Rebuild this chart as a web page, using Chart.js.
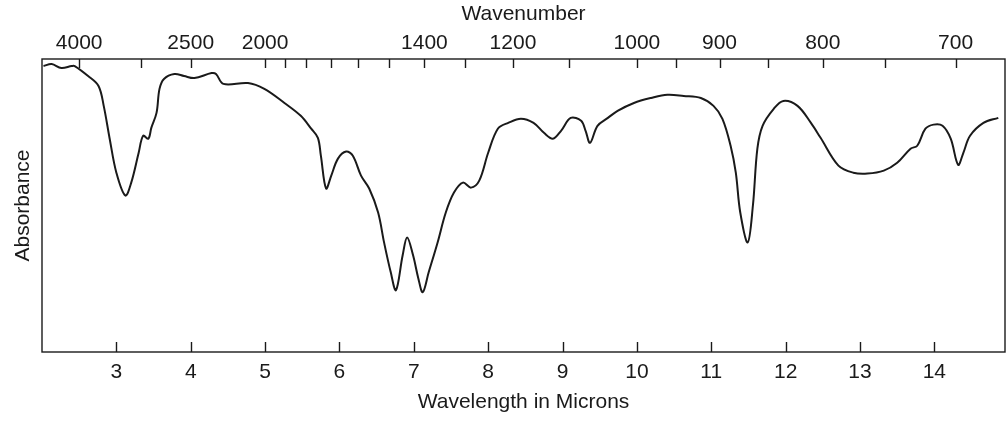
<!DOCTYPE html>
<html>
<head>
<meta charset="utf-8">
<script src="https://cdn.jsdelivr.net/npm/chart.js@4/dist/chart.umd.min.js"></script>
<style>
  body { margin: 0; background: #fff; }
  canvas { display: block; }
</style>
</head>
<body>
<canvas id="chartSpectrum" width="1007" height="423"></canvas>
<script>
// wavelength (microns)
var wavelength = [
  2.02, 2.13, 2.26, 2.40, 2.44, 2.62, 2.76, 2.83, 2.91, 3.00, 3.12, 3.20, 3.30, 3.36, 3.43,
  3.47, 3.54, 3.58, 3.64, 3.78, 3.91, 4.05, 4.28, 4.34, 4.44, 4.77, 4.99, 5.26, 5.48, 5.62,
  5.71, 5.75, 5.82, 5.89, 5.98, 6.09, 6.18, 6.29, 6.40, 6.52, 6.60, 6.69, 6.76, 6.85, 6.91,
  6.99, 7.06, 7.12, 7.20, 7.32, 7.43, 7.54, 7.66, 7.77, 7.88, 8.00, 8.13, 8.27, 8.44, 8.61,
  8.75, 8.87, 8.98, 9.11, 9.25, 9.31, 9.37, 9.47, 9.61, 9.74, 9.96, 10.19, 10.41, 10.63, 10.86,
  11.03, 11.15, 11.26, 11.33, 11.39, 11.49, 11.56, 11.62, 11.69, 11.84, 11.97, 12.16, 12.34, 12.47, 12.71,
  12.91, 13.10, 13.32, 13.50, 13.68, 13.77, 13.88, 13.99, 14.11, 14.22, 14.32, 14.39, 14.48, 14.66, 14.86
];
// trace height (0 = bottom of frame, 100 = top)
var signal = [
  97.6, 98.3, 96.9, 97.6, 97.6, 94.2, 90.8, 84.0, 72.8, 61.2, 53.4, 57.8, 68.0, 73.8, 72.8,
  76.5, 81.6, 89.8, 93.2, 94.9, 94.2, 93.5, 95.2, 94.9, 91.5, 91.8, 89.8, 85.0, 80.6, 76.2,
  73.1, 67.0, 55.8, 60.2, 66.0, 68.4, 67.0, 60.2, 55.8, 47.6, 37.4, 27.2, 21.1, 33.0, 39.1,
  33.0, 25.2, 20.4, 27.2, 37.4, 47.6, 54.4, 57.8, 56.1, 58.5, 68.0, 76.2, 78.2, 79.6, 78.2,
  74.8, 72.8, 75.5, 79.9, 78.9, 75.5, 71.4, 77.2, 79.9, 82.3, 85.0, 86.7, 87.8, 87.4, 86.7,
  84.0, 79.6, 70.4, 61.2, 47.6, 37.4, 50.0, 69.4, 77.2, 83.0, 85.7, 84.0, 78.2, 73.1, 63.6,
  61.2, 60.9, 61.9, 64.6, 69.4, 70.4, 76.2, 77.6, 77.2, 72.8, 63.9, 68.0, 73.8, 78.2, 79.9
];

var micronTicks = [3, 4, 5, 6, 7, 8, 9, 10, 11, 12, 13, 14];
var wavenumberTicks = [4000, 3000, 2500, 2000, 1900, 1800, 1700, 1600, 1500, 1400, 1300,
  1200, 1100, 1000, 950, 900, 850, 800, 750, 700];
var wavenumberLabels = [4000, 2500, 2000, 1400, 1200, 1000, 900, 800, 700];

var ink = '#1a1a1a';
var labelFont = { family: "'Liberation Sans', Arial, sans-serif", size: 21 };

// frame + inward tick marks
var frameTicks = {
  id: 'frameTicks',
  afterDraw: function (chart) {
    var c = chart.ctx;
    var a = chart.chartArea;
    var xb = chart.scales.x;
    c.save();
    c.strokeStyle = ink;
    c.lineWidth = 1.4;
    c.strokeRect(a.left, a.top, a.right - a.left, a.bottom - a.top);
    c.beginPath();
    micronTicks.forEach(function (m) {
      var px = Math.round(xb.getPixelForValue(m)) + 0.5;
      c.moveTo(px, a.bottom);
      c.lineTo(px, a.bottom - 10);
    });
    wavenumberTicks.forEach(function (wn) {
      var px = Math.round(xb.getPixelForValue(10000 / wn)) + 0.5;
      c.moveTo(px, a.top);
      c.lineTo(px, a.top + 9);
    });
    c.stroke();
    c.restore();
  }
};

var points = wavelength.map(function (w, i) {
  return { x: w, y: signal[i] };
});

var ctx = document.getElementById('chartSpectrum').getContext('2d');
var chartSpectrum = new Chart(ctx, {
  type: 'line',
  plugins: [frameTicks],
  data: {
    datasets: [
      {
        data: points,
        borderColor: ink,
        borderWidth: 2,
        pointRadius: 0,
        tension: 0.35,
        fill: false,
      },
    ],
  },
  options: {
    responsive: false,
    animation: false,
    layout: { padding: { right: 2, left: 0, top: 0, bottom: 0 } },
    plugins: {
      legend: { display: false },
      tooltip: { enabled: false },
    },
    scales: {
      x: {
        type: 'linear',
        position: 'bottom',
        min: 2,
        max: 14.95,
        grid: { display: false, drawTicks: false },
        border: { display: false },
        afterBuildTicks: function (scale) {
          scale.ticks = micronTicks.map(function (v) { return { value: v }; });
        },
        afterFit: function (scale) { scale.height = 71; },
        ticks: {
          autoSkip: false,
          maxRotation: 0,
          padding: 8,
          color: ink,
          font: labelFont,
          callback: function (v) { return String(v); },
        },
        title: {
          display: true,
          text: 'Wavelength in Microns',
          color: ink,
          font: labelFont,
          padding: { top: 0, bottom: 8 },
        },
      },
      x2: {
        type: 'linear',
        position: 'top',
        min: 2,
        max: 14.95,
        grid: { display: false, drawTicks: false },
        border: { display: false },
        afterBuildTicks: function (scale) {
          scale.ticks = wavenumberTicks.map(function (wn) { return { value: 10000 / wn }; });
        },
        afterFit: function (scale) { scale.height = 59; },
        ticks: {
          autoSkip: false,
          maxRotation: 0,
          padding: 3,
          color: ink,
          font: labelFont,
          callback: function (v) {
            var wn = Math.round(10000 / v);
            return wavenumberLabels.indexOf(wn) >= 0 ? String(wn) : '';
          },
        },
        title: {
          display: true,
          text: 'Wavenumber',
          color: ink,
          font: labelFont,
          padding: { top: 2, bottom: 0 },
        },
      },
      y: {
        min: 0,
        max: 100,
        grid: { display: false, drawTicks: false },
        border: { display: false },
        ticks: { display: false },
        afterFit: function (scale) { scale.width = 42; },
        title: {
          display: true,
          text: 'Absorbance',
          color: ink,
          font: labelFont,
          padding: { top: 11, bottom: 0 },
        },
      },
    },
  },
});
</script>
</body>
</html>
